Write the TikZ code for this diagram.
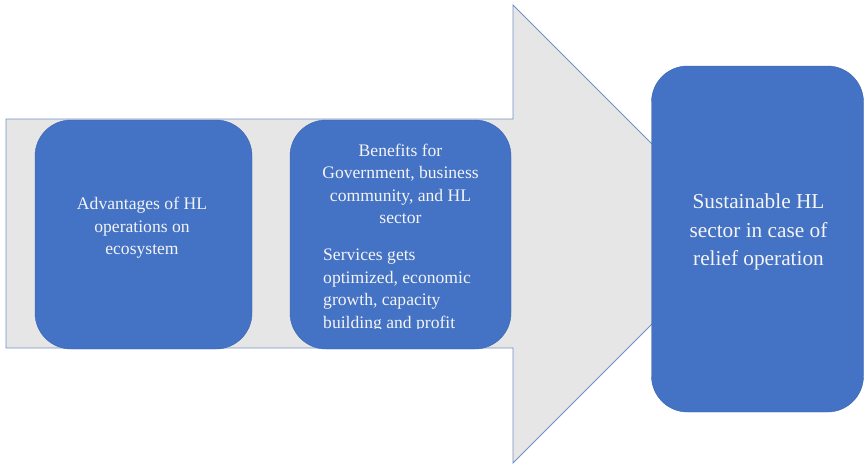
\documentclass[tikz,border=0pt]{standalone}
\usepackage{fontspec}
\setmainfont{Liberation Serif}
\usepackage{tikz}
\usetikzlibrary{positioning}
\definecolor{boxblue}{HTML}{4472C4}
\definecolor{boxedge}{HTML}{3B65B0}
\definecolor{arrowgray}{HTML}{E7E6E6}
\definecolor{arrowedge}{HTML}{7190C4}
\definecolor{txt}{HTML}{F4F4F4}

\begin{document}
\begin{tikzpicture}[x=1pt,y=-1pt,
    hlbox/.style={draw=boxedge, fill=boxblue, rounded corners=36pt, inner sep=0pt},
    lbl/.style={text=txt, inner sep=0pt, align=center, font=\fontsize{17.6}{22.5}\selectfont}]
          \useasboundingbox (0,0) rectangle (866,466);
          \draw[arrowedge, fill=arrowgray, line width=0.9pt] (6,119) -- (513,119) -- (513,5) -- (742,234) -- (513,463) -- (513,348) -- (6,348) -- cycle;
          \node[hlbox, minimum width=217pt, minimum height=229pt] (adv) at (143.5,234.5) {};
          \node[hlbox, minimum width=221pt, minimum height=229pt] (ben) at (400.5,234.5) {};
          \node[hlbox, minimum width=212pt, minimum height=346pt] (sust) at (757.5,239) {};
          \node[lbl] (adv-text) at (142,228) {Advantages of HL\\ operations on\\ ecosystem};
          \node[lbl] (ben-text) at (400.5,184) {Benefits for\\ Government, business\\ community, and HL\\ sector};
          \begin{scope}
            \clip (290,240) rectangle (512,328.5);
            \node[lbl, align=left, anchor=west] (ben-more) at (323,290.5) {Services gets\\ optimized, economic\\ growth, capacity\\ building and profit};
          \end{scope}
          \node[lbl, font=\fontsize{21.3}{28.5}\selectfont] (sust-text) at (758.5,232) {Sustainable HL\\ sector in case of\\ relief operation};
        \end{tikzpicture}
\end{document}
